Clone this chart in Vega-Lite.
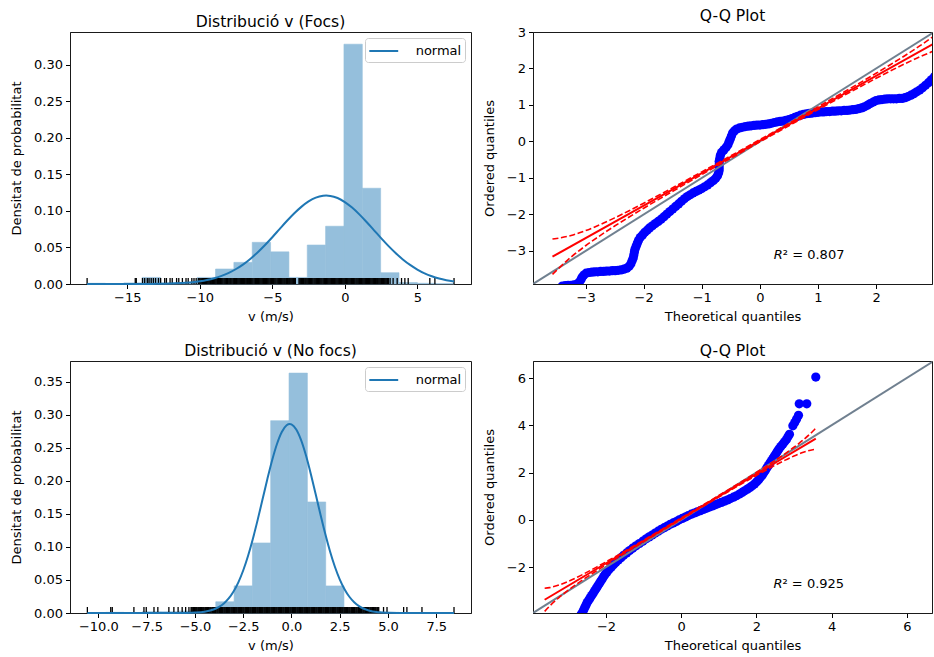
{
  "$schema": "https://vega.github.io/schema/vega-lite/v6.json",
  "padding": {"left": 10, "top": 8, "right": 0, "bottom": 0},
  "background": "white",
  "columns": 2,
  "spacing": {"row": 77, "column": 62},
  "bounds": "flush",
  "resolve": {"scale": {"stroke": "independent"}, "legend": {"stroke": "independent"}},
  "datasets": {
    "h1": [
      {"x": -17.77, "x2": -16.505, "y": 0.001}, {"x": -16.505, "x2": -15.24, "y": 0}, {"x": -15.24, "x2": -13.975, "y": 0.0015},
      {"x": -13.975, "x2": -12.71, "y": 0.009}, {"x": -12.71, "x2": -11.445, "y": 0.0015}, {"x": -11.445, "x2": -10.18, "y": 0.0015},
      {"x": -10.18, "x2": -8.915, "y": 0.009}, {"x": -8.915, "x2": -7.65, "y": 0.0205}, {"x": -7.65, "x2": -6.385, "y": 0.0296},
      {"x": -6.385, "x2": -5.12, "y": 0.057}, {"x": -5.12, "x2": -3.855, "y": 0.044}, {"x": -3.855, "x2": -2.59, "y": 0.009},
      {"x": -2.59, "x2": -1.325, "y": 0.0533}, {"x": -1.325, "x2": -0.06, "y": 0.079}, {"x": -0.06, "x2": 1.205, "y": 0.328},
      {"x": 1.205, "x2": 2.47, "y": 0.131}, {"x": 2.47, "x2": 3.735, "y": 0.0155}, {"x": 3.735, "x2": 5.0, "y": 0.002},
      {"x": 5.0, "x2": 6.265, "y": 0.001}, {"x": 6.265, "x2": 7.53, "y": 0.0005}
    ],
    "r1": [
      {"x": -17.77}, {"x": -14.45}, {"x": -14.38}, {"x": -13.95}, {"x": -13.8}, {"x": -13.62}, {"x": -13.5}, {"x": -13.35}, {"x": -13.2}, {"x": -13.05},
      {"x": -12.85}, {"x": -12.7}, {"x": -12.42}, {"x": -12.3}, {"x": -12.05}, {"x": -11.9}, {"x": -11.6}, {"x": -11.45}, {"x": -11.2}, {"x": -10.95},
      {"x": -10.8}, {"x": -10.55}, {"x": -10.4}, {"x": -10.25}, {"x": -10.1}, {"x": -9.98}, {"x": -9.85}, {"x": -9.74}, {"x": -9.6}, {"x": -9.49},
      {"x": -9.37}, {"x": -9.25}, {"x": -9.12}, {"x": -9.0}, {"x": -8.88}, {"x": -8.77}, {"x": -8.63}, {"x": -8.52}, {"x": -8.4}, {"x": -8.27},
      {"x": -8.15}, {"x": -8.04}, {"x": -7.9}, {"x": -7.79}, {"x": -7.66}, {"x": -7.55}, {"x": -7.42}, {"x": -7.3}, {"x": -7.18}, {"x": -7.06},
      {"x": -6.93}, {"x": -6.81}, {"x": -6.7}, {"x": -6.57}, {"x": -6.45}, {"x": -6.33}, {"x": -6.2}, {"x": -6.09}, {"x": -5.96}, {"x": -5.84},
      {"x": -5.72}, {"x": -5.6}, {"x": -5.48}, {"x": -5.35}, {"x": -5.24}, {"x": -5.11}, {"x": -4.99}, {"x": -4.87}, {"x": -4.75}, {"x": -4.62},
      {"x": -4.5}, {"x": -4.38}, {"x": -4.26}, {"x": -4.14}, {"x": -4.01}, {"x": -3.9}, {"x": -3.77}, {"x": -3.65}, {"x": -3.53}, {"x": -3.41},
      {"x": -3.16}, {"x": -3.04}, {"x": -2.92}, {"x": -2.8}, {"x": -2.67}, {"x": -2.55}, {"x": -2.43}, {"x": -2.31}, {"x": -2.19}, {"x": -2.06},
      {"x": -1.94}, {"x": -1.82}, {"x": -1.7}, {"x": -1.58}, {"x": -1.45}, {"x": -1.33}, {"x": -1.21}, {"x": -1.09}, {"x": -0.97}, {"x": -0.85},
      {"x": -0.72}, {"x": -0.6}, {"x": -0.48}, {"x": -0.36}, {"x": -0.24}, {"x": -0.12}, {"x": 0.0}, {"x": 0.11}, {"x": 0.23}, {"x": 0.35},
      {"x": 0.47}, {"x": 0.59}, {"x": 0.71}, {"x": 0.84}, {"x": 0.96}, {"x": 1.08}, {"x": 1.2}, {"x": 1.32}, {"x": 1.44}, {"x": 1.57},
      {"x": 1.69}, {"x": 1.81}, {"x": 1.93}, {"x": 2.05}, {"x": 2.17}, {"x": 2.3}, {"x": 2.42}, {"x": 2.54}, {"x": 2.66}, {"x": 2.78},
      {"x": 2.9}, {"x": 3.0}, {"x": 3.12}, {"x": 3.33}, {"x": 3.61}, {"x": 3.91}, {"x": 4.14}, {"x": 4.37}, {"x": 5.86}, {"x": 6.21}, {"x": 7.53},
      {"x": -10.04}, {"x": -9.91}, {"x": -9.8}, {"x": -9.67}, {"x": -9.55}, {"x": -9.43}, {"x": -9.31}, {"x": -9.18}, {"x": -9.06}, {"x": -8.94},
      {"x": -8.82}, {"x": -8.7}, {"x": -8.57}, {"x": -8.46}, {"x": -8.33}, {"x": -8.21}, {"x": -8.1}, {"x": -7.97}, {"x": -7.85}, {"x": -7.72},
      {"x": -7.6}, {"x": -7.48}, {"x": -7.36}, {"x": -7.24}, {"x": -7.12}, {"x": -6.99}, {"x": -6.87}, {"x": -6.76}, {"x": -6.63}, {"x": -6.51},
      {"x": -6.39}, {"x": -6.26}, {"x": -6.15}, {"x": -6.02}, {"x": -5.9}, {"x": -5.78}, {"x": -5.66}, {"x": -5.54}, {"x": -5.41}, {"x": -5.3},
      {"x": -5.17}, {"x": -5.05}, {"x": -4.93}, {"x": -4.81}, {"x": -4.68}, {"x": -4.56}, {"x": -4.44}, {"x": -4.32}, {"x": -4.2}, {"x": -4.07},
      {"x": -3.95}, {"x": -3.83}, {"x": -3.71}, {"x": -3.59}, {"x": -3.47}, {"x": -3.1}, {"x": -2.98}, {"x": -2.86}, {"x": -2.73}, {"x": -2.61},
      {"x": -2.49}, {"x": -2.37}, {"x": -2.25}, {"x": -2.12}, {"x": -2.0}, {"x": -1.88}, {"x": -1.76}, {"x": -1.64}, {"x": -1.51}, {"x": -1.39},
      {"x": -1.27}, {"x": -1.15}, {"x": -1.03}, {"x": -0.91}, {"x": -0.78}, {"x": -0.66}, {"x": -0.54}, {"x": -0.42}, {"x": -0.3}, {"x": -0.18},
      {"x": -0.06}, {"x": 0.06}, {"x": 0.17}, {"x": 0.29}, {"x": 0.41}, {"x": 0.53}, {"x": 0.65}, {"x": 0.78}, {"x": 0.9}, {"x": 1.02},
      {"x": 1.14}, {"x": 1.26}, {"x": 1.38}, {"x": 1.5}, {"x": 1.63}, {"x": 1.75}, {"x": 1.87}, {"x": 1.99}, {"x": 2.11}, {"x": 2.24},
      {"x": 2.36}, {"x": 2.48}, {"x": 2.6}, {"x": 2.72}, {"x": 2.84}, {"x": 2.95}
    ],
    "n1": [
      {"x": -17.77, "y": 0}, {"x": -16, "y": 0.00001}, {"x": -15, "y": 0.00002}, {"x": -14, "y": 0.00007}, {"x": -13, "y": 0.00022},
      {"x": -12, "y": 0.00062}, {"x": -11, "y": 0.00158}, {"x": -10.5, "y": 0.00244}, {"x": -10, "y": 0.00369}, {"x": -9.5, "y": 0.00544},
      {"x": -9, "y": 0.00784}, {"x": -8.5, "y": 0.01105}, {"x": -8, "y": 0.0152}, {"x": -7.5, "y": 0.0205}, {"x": -7, "y": 0.0269},
      {"x": -6.5, "y": 0.0346}, {"x": -6, "y": 0.0435}, {"x": -5.5, "y": 0.0534}, {"x": -5, "y": 0.064}, {"x": -4.5, "y": 0.0751},
      {"x": -4, "y": 0.0861}, {"x": -3.5, "y": 0.0964}, {"x": -3, "y": 0.1055}, {"x": -2.5, "y": 0.1129}, {"x": -2, "y": 0.1181},
      {"x": -1.5, "y": 0.1206}, {"x": -1.28, "y": 0.1209}, {"x": -1, "y": 0.1205}, {"x": -0.5, "y": 0.1176}, {"x": 0, "y": 0.1121},
      {"x": 0.5, "y": 0.1045}, {"x": 1, "y": 0.0952}, {"x": 1.5, "y": 0.0848}, {"x": 2, "y": 0.0738}, {"x": 2.5, "y": 0.0627},
      {"x": 3, "y": 0.0521}, {"x": 3.5, "y": 0.0424}, {"x": 4, "y": 0.0336}, {"x": 4.5, "y": 0.0261}, {"x": 5, "y": 0.0198},
      {"x": 5.5, "y": 0.0146}, {"x": 6, "y": 0.0106}, {"x": 6.5, "y": 0.0075}, {"x": 7, "y": 0.0052}, {"x": 7.53, "y": 0.0034}
    ],
    "h2": [
      {"x": -10.57, "x2": -9.62, "y": 0.0005}, {"x": -9.62, "x2": -8.67, "y": 0.001}, {"x": -8.67, "x2": -7.72, "y": 0.0005},
      {"x": -7.72, "x2": -6.77, "y": 0.002}, {"x": -6.77, "x2": -5.82, "y": 0.002}, {"x": -5.82, "x2": -4.87, "y": 0.003},
      {"x": -4.87, "x2": -3.92, "y": 0.007}, {"x": -3.92, "x2": -2.97, "y": 0.017}, {"x": -2.97, "x2": -2.02, "y": 0.041},
      {"x": -2.02, "x2": -1.075, "y": 0.106}, {"x": -1.075, "x2": -0.125, "y": 0.291}, {"x": -0.125, "x2": 0.825, "y": 0.363},
      {"x": 0.825, "x2": 1.775, "y": 0.168}, {"x": 1.775, "x2": 2.72, "y": 0.041}, {"x": 2.72, "x2": 3.67, "y": 0.003},
      {"x": 3.67, "x2": 4.62, "y": 0.002}, {"x": 4.62, "x2": 5.57, "y": 0.001}, {"x": 5.57, "x2": 6.52, "y": 0.0005},
      {"x": 6.52, "x2": 7.47, "y": 0.0005}, {"x": 7.47, "x2": 8.42, "y": 0.0005}
    ],
    "r2": [
      {"x": -10.57}, {"x": -9.36}, {"x": -9.28}, {"x": -8.16}, {"x": -7.64}, {"x": -7.52}, {"x": -7.12}, {"x": -6.92}, {"x": -6.35}, {"x": -6.09},
      {"x": -5.87}, {"x": -5.66}, {"x": -5.48}, {"x": -5.31}, {"x": -5.2}, {"x": -5.11}, {"x": -5.02}, {"x": -4.93}, {"x": -4.84}, {"x": -4.75},
      {"x": -4.66}, {"x": -4.57}, {"x": -4.48}, {"x": -4.39}, {"x": -4.3}, {"x": -4.21}, {"x": -4.12}, {"x": -4.03}, {"x": -3.94}, {"x": -3.85},
      {"x": -3.76}, {"x": -3.67}, {"x": -3.58}, {"x": -3.49}, {"x": -3.4}, {"x": -3.31}, {"x": -3.22}, {"x": -3.13}, {"x": -3.04}, {"x": -2.95},
      {"x": -2.86}, {"x": -2.77}, {"x": -2.68}, {"x": -2.59}, {"x": -2.5}, {"x": -2.41}, {"x": -2.32}, {"x": -2.23}, {"x": -2.14}, {"x": -2.05},
      {"x": -1.96}, {"x": -1.87}, {"x": -1.78}, {"x": -1.69}, {"x": -1.6}, {"x": -1.51}, {"x": -1.42}, {"x": -1.33}, {"x": -1.24}, {"x": -1.15},
      {"x": -1.06}, {"x": -0.97}, {"x": -0.88}, {"x": -0.79}, {"x": -0.7}, {"x": -0.61}, {"x": -0.52}, {"x": -0.43}, {"x": -0.34}, {"x": -0.25},
      {"x": -0.16}, {"x": -0.07}, {"x": 0.02}, {"x": 0.11}, {"x": 0.2}, {"x": 0.29}, {"x": 0.38}, {"x": 0.47}, {"x": 0.56}, {"x": 0.65},
      {"x": 0.74}, {"x": 0.83}, {"x": 0.92}, {"x": 1.01}, {"x": 1.1}, {"x": 1.19}, {"x": 1.28}, {"x": 1.37}, {"x": 1.46}, {"x": 1.55},
      {"x": 1.64}, {"x": 1.73}, {"x": 1.82}, {"x": 1.91}, {"x": 2.0}, {"x": 2.09}, {"x": 2.18}, {"x": 2.27}, {"x": 2.36}, {"x": 2.45},
      {"x": 2.54}, {"x": 2.63}, {"x": 2.72}, {"x": 2.81}, {"x": 2.9}, {"x": 2.99}, {"x": 3.08}, {"x": 3.17}, {"x": 3.26}, {"x": 3.35},
      {"x": 3.44}, {"x": 3.53}, {"x": 3.62}, {"x": 3.71}, {"x": 3.8}, {"x": 3.89}, {"x": 3.98}, {"x": 4.07}, {"x": 4.16}, {"x": 4.25},
      {"x": 4.34}, {"x": 4.43}, {"x": 4.52}, {"x": 4.77}, {"x": 4.95}, {"x": 5.81}, {"x": 5.98}, {"x": 6.76}, {"x": 8.42},
      {"x": -5.16}, {"x": -5.07}, {"x": -4.98}, {"x": -4.89}, {"x": -4.8}, {"x": -4.71}, {"x": -4.62}, {"x": -4.53}, {"x": -4.44}, {"x": -4.35},
      {"x": -4.26}, {"x": -4.17}, {"x": -4.08}, {"x": -3.99}, {"x": -3.9}, {"x": -3.81}, {"x": -3.72}, {"x": -3.63}, {"x": -3.54}, {"x": -3.45},
      {"x": -3.36}, {"x": -3.27}, {"x": -3.18}, {"x": -3.09}, {"x": -3.0}, {"x": -2.91}, {"x": -2.82}, {"x": -2.73}, {"x": -2.64}, {"x": -2.55},
      {"x": -2.46}, {"x": -2.37}, {"x": -2.28}, {"x": -2.19}, {"x": -2.1}, {"x": -2.01}, {"x": -1.92}, {"x": -1.83}, {"x": -1.74}, {"x": -1.65},
      {"x": -1.56}, {"x": -1.47}, {"x": -1.38}, {"x": -1.29}, {"x": -1.2}, {"x": -1.11}, {"x": -1.02}, {"x": -0.93}, {"x": -0.84}, {"x": -0.75},
      {"x": -0.66}, {"x": -0.57}, {"x": -0.48}, {"x": -0.39}, {"x": -0.3}, {"x": -0.21}, {"x": -0.12}, {"x": -0.03}, {"x": 0.06}, {"x": 0.15},
      {"x": 0.24}, {"x": 0.33}, {"x": 0.42}, {"x": 0.51}, {"x": 0.6}, {"x": 0.69}, {"x": 0.78}, {"x": 0.87}, {"x": 0.96}, {"x": 1.05},
      {"x": 1.14}, {"x": 1.23}, {"x": 1.32}, {"x": 1.41}, {"x": 1.5}, {"x": 1.59}, {"x": 1.68}, {"x": 1.77}, {"x": 1.86}, {"x": 1.95},
      {"x": 2.04}, {"x": 2.13}, {"x": 2.22}, {"x": 2.31}, {"x": 2.4}, {"x": 2.49}, {"x": 2.58}, {"x": 2.67}, {"x": 2.76}, {"x": 2.85},
      {"x": 2.94}, {"x": 3.03}, {"x": 3.12}, {"x": 3.21}, {"x": 3.3}, {"x": 3.39}, {"x": 3.48}, {"x": 3.57}, {"x": 3.66}, {"x": 3.75},
      {"x": 3.84}, {"x": 3.93}, {"x": 4.02}, {"x": 4.11}, {"x": 4.2}, {"x": 4.29}, {"x": 4.38}, {"x": 4.47}
    ],
    "n2": [
      {"x": -10.57, "y": 0}, {"x": -8, "y": 0}, {"x": -7, "y": 0}, {"x": -6, "y": 0.00004}, {"x": -5.5, "y": 0.000155},
      {"x": -5, "y": 0.00058}, {"x": -4.5, "y": 0.00193}, {"x": -4, "y": 0.00563}, {"x": -3.75, "y": 0.00916}, {"x": -3.5, "y": 0.01441},
      {"x": -3.25, "y": 0.022}, {"x": -3, "y": 0.0325}, {"x": -2.75, "y": 0.0464}, {"x": -2.5, "y": 0.0643}, {"x": -2.25, "y": 0.0862},
      {"x": -2, "y": 0.112}, {"x": -1.75, "y": 0.1409}, {"x": -1.5, "y": 0.1716}, {"x": -1.25, "y": 0.2024}, {"x": -1, "y": 0.2312},
      {"x": -0.75, "y": 0.2557}, {"x": -0.5, "y": 0.2739}, {"x": -0.25, "y": 0.2841}, {"x": -0.09, "y": 0.286}, {"x": 0, "y": 0.2854},
      {"x": 0.25, "y": 0.2776}, {"x": 0.5, "y": 0.2615}, {"x": 0.75, "y": 0.2386}, {"x": 1, "y": 0.2108}, {"x": 1.25, "y": 0.1803},
      {"x": 1.5, "y": 0.1494}, {"x": 1.75, "y": 0.1198}, {"x": 2, "y": 0.0931}, {"x": 2.25, "y": 0.07}, {"x": 2.5, "y": 0.051},
      {"x": 2.75, "y": 0.036}, {"x": 3, "y": 0.0246}, {"x": 3.25, "y": 0.0163}, {"x": 3.5, "y": 0.01043}, {"x": 3.75, "y": 0.00647},
      {"x": 4, "y": 0.00389}, {"x": 4.5, "y": 0.00128}, {"x": 5, "y": 0.00037}, {"x": 5.5, "y": 0.000093}, {"x": 6, "y": 0.00002},
      {"x": 7, "y": 0}, {"x": 8.42, "y": 0}
    ],
    "q1": [
      {"x": -3.4, "y": -3.96}, {"x": -3.35, "y": -3.95}, {"x": -3.3, "y": -3.94}, {"x": -3.25, "y": -3.94}, {"x": -3.2, "y": -3.93},
      {"x": -3.15, "y": -3.91}, {"x": -3.11, "y": -3.86}, {"x": -3.08, "y": -3.79}, {"x": -3.06, "y": -3.72}, {"x": -3.03, "y": -3.66},
      {"x": -2.99, "y": -3.61}, {"x": -2.94, "y": -3.59}, {"x": -2.89, "y": -3.58}, {"x": -2.84, "y": -3.57}, {"x": -2.79, "y": -3.57},
      {"x": -2.74, "y": -3.56}, {"x": -2.69, "y": -3.56}, {"x": -2.64, "y": -3.55}, {"x": -2.59, "y": -3.55}, {"x": -2.54, "y": -3.54},
      {"x": -2.49, "y": -3.54}, {"x": -2.44, "y": -3.53}, {"x": -2.39, "y": -3.52}, {"x": -2.34, "y": -3.5}, {"x": -2.29, "y": -3.47},
      {"x": -2.25, "y": -3.42}, {"x": -2.22, "y": -3.35}, {"x": -2.2, "y": -3.27}, {"x": -2.18, "y": -3.19}, {"x": -2.17, "y": -3.11},
      {"x": -2.16, "y": -3.03}, {"x": -2.15, "y": -2.95}, {"x": -2.13, "y": -2.87}, {"x": -2.11, "y": -2.79}, {"x": -2.09, "y": -2.71},
      {"x": -2.06, "y": -2.63}, {"x": -2.02, "y": -2.56}, {"x": -1.98, "y": -2.49}, {"x": -1.94, "y": -2.43}, {"x": -1.9, "y": -2.37},
      {"x": -1.85, "y": -2.31}, {"x": -1.8, "y": -2.25}, {"x": -1.75, "y": -2.19}, {"x": -1.7, "y": -2.13}, {"x": -1.65, "y": -2.06},
      {"x": -1.6, "y": -1.99}, {"x": -1.55, "y": -1.92}, {"x": -1.5, "y": -1.85}, {"x": -1.45, "y": -1.78}, {"x": -1.4, "y": -1.71},
      {"x": -1.35, "y": -1.64}, {"x": -1.3, "y": -1.57}, {"x": -1.25, "y": -1.51}, {"x": -1.2, "y": -1.46}, {"x": -1.15, "y": -1.41},
      {"x": -1.1, "y": -1.37}, {"x": -1.05, "y": -1.33}, {"x": -1.0, "y": -1.29}, {"x": -0.95, "y": -1.24}, {"x": -0.9, "y": -1.19},
      {"x": -0.85, "y": -1.13}, {"x": -0.8, "y": -1.07}, {"x": -0.76, "y": -1.01}, {"x": -0.73, "y": -0.94}, {"x": -0.71, "y": -0.86},
      {"x": -0.7, "y": -0.78}, {"x": -0.7, "y": -0.7}, {"x": -0.7, "y": -0.62}, {"x": -0.7, "y": -0.54}, {"x": -0.69, "y": -0.46},
      {"x": -0.68, "y": -0.38}, {"x": -0.66, "y": -0.3}, {"x": -0.62, "y": -0.23}, {"x": -0.58, "y": -0.16}, {"x": -0.55, "y": -0.09},
      {"x": -0.53, "y": -0.01}, {"x": -0.51, "y": 0.07}, {"x": -0.49, "y": 0.15}, {"x": -0.47, "y": 0.23}, {"x": -0.44, "y": 0.29},
      {"x": -0.4, "y": 0.34}, {"x": -0.35, "y": 0.37}, {"x": -0.3, "y": 0.39}, {"x": -0.25, "y": 0.41}, {"x": -0.2, "y": 0.42},
      {"x": -0.15, "y": 0.43}, {"x": -0.1, "y": 0.44}, {"x": -0.05, "y": 0.45}, {"x": 0.0, "y": 0.45}, {"x": 0.05, "y": 0.46},
      {"x": 0.1, "y": 0.47}, {"x": 0.15, "y": 0.48}, {"x": 0.2, "y": 0.5}, {"x": 0.25, "y": 0.52}, {"x": 0.3, "y": 0.54},
      {"x": 0.35, "y": 0.55}, {"x": 0.4, "y": 0.56}, {"x": 0.45, "y": 0.58}, {"x": 0.5, "y": 0.6}, {"x": 0.55, "y": 0.63},
      {"x": 0.6, "y": 0.66}, {"x": 0.65, "y": 0.69}, {"x": 0.7, "y": 0.72}, {"x": 0.75, "y": 0.74}, {"x": 0.8, "y": 0.76},
      {"x": 0.85, "y": 0.77}, {"x": 0.9, "y": 0.78}, {"x": 0.95, "y": 0.79}, {"x": 1.0, "y": 0.8}, {"x": 1.05, "y": 0.81},
      {"x": 1.1, "y": 0.81}, {"x": 1.15, "y": 0.82}, {"x": 1.2, "y": 0.82}, {"x": 1.25, "y": 0.83}, {"x": 1.3, "y": 0.83},
      {"x": 1.35, "y": 0.84}, {"x": 1.4, "y": 0.84}, {"x": 1.45, "y": 0.85}, {"x": 1.5, "y": 0.85}, {"x": 1.55, "y": 0.86},
      {"x": 1.6, "y": 0.87}, {"x": 1.65, "y": 0.88}, {"x": 1.7, "y": 0.9}, {"x": 1.75, "y": 0.92}, {"x": 1.8, "y": 0.95},
      {"x": 1.85, "y": 0.99}, {"x": 1.9, "y": 1.04}, {"x": 1.95, "y": 1.08}, {"x": 2.0, "y": 1.12}, {"x": 2.05, "y": 1.14},
      {"x": 2.1, "y": 1.15}, {"x": 2.15, "y": 1.16}, {"x": 2.2, "y": 1.17}, {"x": 2.25, "y": 1.17}, {"x": 2.3, "y": 1.17},
      {"x": 2.35, "y": 1.17}, {"x": 2.4, "y": 1.18}, {"x": 2.45, "y": 1.18}, {"x": 2.5, "y": 1.2}, {"x": 2.55, "y": 1.23},
      {"x": 2.6, "y": 1.27}, {"x": 2.65, "y": 1.31}, {"x": 2.7, "y": 1.36}, {"x": 2.75, "y": 1.41}, {"x": 2.8, "y": 1.47},
      {"x": 2.85, "y": 1.54}, {"x": 2.9, "y": 1.61}, {"x": 2.95, "y": 1.69}, {"x": 3.0, "y": 1.77}
    ],
    "f1": [{"x": -3.57, "y": -3.157}, {"x": 3.57, "y": 3.197}],
    "u1": [
      {"x": -3.57, "y": -2.674}, {"x": -3.5, "y": -2.658}, {"x": -3.25, "y": -2.577}, {"x": -3.0, "y": -2.443}, {"x": -2.75, "y": -2.278},
      {"x": -2.5, "y": -2.093}, {"x": -2.25, "y": -1.896}, {"x": -2.0, "y": -1.691}, {"x": -1.5, "y": -1.267}, {"x": -1.0, "y": -0.832},
      {"x": -0.5, "y": -0.392}, {"x": 0, "y": 0.051}, {"x": 0.5, "y": 0.498}, {"x": 1.0, "y": 0.948}, {"x": 1.5, "y": 1.403},
      {"x": 2.0, "y": 1.869}, {"x": 2.25, "y": 2.109}, {"x": 2.5, "y": 2.357}, {"x": 2.75, "y": 2.618}, {"x": 3.0, "y": 2.897},
      {"x": 3.25, "y": 3.209}, {"x": 3.5, "y": 3.573}, {"x": 3.57, "y": 3.68}
    ],
    "l1": [
      {"x": -3.57, "y": -3.64}, {"x": -3.5, "y": -3.533}, {"x": -3.25, "y": -3.168}, {"x": -3.0, "y": -2.857}, {"x": -2.75, "y": -2.578},
      {"x": -2.5, "y": -2.317}, {"x": -2.25, "y": -2.069}, {"x": -2.0, "y": -1.829}, {"x": -1.5, "y": -1.363}, {"x": -1.0, "y": -0.908},
      {"x": -0.5, "y": -0.458}, {"x": 0, "y": -0.011}, {"x": 0.5, "y": 0.432}, {"x": 1.0, "y": 0.872}, {"x": 1.5, "y": 1.307},
      {"x": 2.0, "y": 1.731}, {"x": 2.25, "y": 1.936}, {"x": 2.5, "y": 2.133}, {"x": 2.75, "y": 2.318}, {"x": 3.0, "y": 2.483},
      {"x": 3.25, "y": 2.617}, {"x": 3.5, "y": 2.698}, {"x": 3.57, "y": 2.714}
    ],
    "d1": [{"x": -3.905, "y": -3.905}, {"x": 3.0, "y": 3.0}],
    "q2": [
      {"x": -2.66, "y": -4.0}, {"x": -2.62, "y": -3.9}, {"x": -2.59, "y": -3.8}, {"x": -2.56, "y": -3.7}, {"x": -2.53, "y": -3.6},
      {"x": -2.5, "y": -3.5}, {"x": -2.46, "y": -3.4}, {"x": -2.42, "y": -3.3}, {"x": -2.38, "y": -3.2}, {"x": -2.34, "y": -3.1},
      {"x": -2.3, "y": -3.0}, {"x": -2.26, "y": -2.9}, {"x": -2.22, "y": -2.8}, {"x": -2.18, "y": -2.7}, {"x": -2.14, "y": -2.6},
      {"x": -2.1, "y": -2.5}, {"x": -2.06, "y": -2.4}, {"x": -2.02, "y": -2.3}, {"x": -1.97, "y": -2.2}, {"x": -1.92, "y": -2.1},
      {"x": -1.86, "y": -2.0}, {"x": -1.8, "y": -1.9}, {"x": -1.74, "y": -1.8}, {"x": -1.67, "y": -1.7}, {"x": -1.6, "y": -1.6},
      {"x": -1.53, "y": -1.5}, {"x": -1.45, "y": -1.4}, {"x": -1.37, "y": -1.3}, {"x": -1.29, "y": -1.2}, {"x": -1.2, "y": -1.1},
      {"x": -1.11, "y": -1.0}, {"x": -1.02, "y": -0.9}, {"x": -0.93, "y": -0.8}, {"x": -0.85, "y": -0.72}, {"x": -0.77, "y": -0.64},
      {"x": -0.69, "y": -0.56}, {"x": -0.61, "y": -0.48}, {"x": -0.53, "y": -0.4}, {"x": -0.45, "y": -0.33}, {"x": -0.37, "y": -0.26},
      {"x": -0.29, "y": -0.19}, {"x": -0.21, "y": -0.13}, {"x": -0.13, "y": -0.07}, {"x": -0.05, "y": 0.0}, {"x": 0.03, "y": 0.06},
      {"x": 0.11, "y": 0.12}, {"x": 0.19, "y": 0.18}, {"x": 0.27, "y": 0.24}, {"x": 0.35, "y": 0.29}, {"x": 0.43, "y": 0.34},
      {"x": 0.51, "y": 0.39}, {"x": 0.59, "y": 0.44}, {"x": 0.67, "y": 0.49}, {"x": 0.75, "y": 0.54}, {"x": 0.83, "y": 0.59},
      {"x": 0.91, "y": 0.64}, {"x": 0.99, "y": 0.69}, {"x": 1.07, "y": 0.74}, {"x": 1.15, "y": 0.79}, {"x": 1.23, "y": 0.84},
      {"x": 1.31, "y": 0.9}, {"x": 1.39, "y": 0.96}, {"x": 1.47, "y": 1.02}, {"x": 1.55, "y": 1.09}, {"x": 1.62, "y": 1.16},
      {"x": 1.69, "y": 1.23}, {"x": 1.76, "y": 1.3}, {"x": 1.83, "y": 1.37}, {"x": 1.89, "y": 1.44}, {"x": 1.95, "y": 1.52},
      {"x": 2.01, "y": 1.61}, {"x": 2.06, "y": 1.7}, {"x": 2.11, "y": 1.8}, {"x": 2.16, "y": 1.9}, {"x": 2.2, "y": 2.0},
      {"x": 2.24, "y": 2.1}, {"x": 2.28, "y": 2.2}, {"x": 2.32, "y": 2.3}, {"x": 2.36, "y": 2.4}, {"x": 2.4, "y": 2.5},
      {"x": 2.44, "y": 2.6}, {"x": 2.48, "y": 2.7}, {"x": 2.52, "y": 2.8}, {"x": 2.56, "y": 2.9}, {"x": 2.6, "y": 3.0},
      {"x": 2.65, "y": 3.1}, {"x": 2.7, "y": 3.2}, {"x": 2.75, "y": 3.3}, {"x": 2.8, "y": 3.4}, {"x": 2.84, "y": 3.52},
      {"x": 2.88, "y": 3.62}, {"x": 2.97, "y": 3.98}, {"x": 3.02, "y": 4.12}, {"x": 3.07, "y": 4.27}, {"x": 3.12, "y": 4.42},
      {"x": 3.14, "y": 4.91}, {"x": 3.34, "y": 4.91}, {"x": 3.58, "y": 6.04}
    ],
    "f2": [{"x": -3.63, "y": -3.38}, {"x": 3.58, "y": 3.433}],
    "u2": [
      {"x": -3.63, "y": -2.89}, {"x": -3.5, "y": -2.866}, {"x": -3.25, "y": -2.756}, {"x": -3.0, "y": -2.599}, {"x": -2.75, "y": -2.415},
      {"x": -2.5, "y": -2.212}, {"x": -2.25, "y": -1.999}, {"x": -2.0, "y": -1.778}, {"x": -1.5, "y": -1.324}, {"x": -1.0, "y": -0.861},
      {"x": -0.5, "y": -0.393}, {"x": 0, "y": 0.078}, {"x": 0.5, "y": 0.552}, {"x": 1.0, "y": 1.029}, {"x": 1.5, "y": 1.511},
      {"x": 2.0, "y": 2.002}, {"x": 2.25, "y": 2.254}, {"x": 2.5, "y": 2.513}, {"x": 2.75, "y": 2.783}, {"x": 3.0, "y": 3.071},
      {"x": 3.25, "y": 3.386}, {"x": 3.5, "y": 3.75}, {"x": 3.58, "y": 3.883}
    ],
    "l2": [
      {"x": -3.63, "y": -3.87}, {"x": -3.5, "y": -3.65}, {"x": -3.25, "y": -3.286}, {"x": -3.0, "y": -2.971}, {"x": -2.75, "y": -2.683},
      {"x": -2.5, "y": -2.413}, {"x": -2.25, "y": -2.154}, {"x": -2.0, "y": -1.902}, {"x": -1.5, "y": -1.411}, {"x": -1.0, "y": -0.929},
      {"x": -0.5, "y": -0.452}, {"x": 0, "y": 0.022}, {"x": 0.5, "y": 0.493}, {"x": 1.0, "y": 0.961}, {"x": 1.5, "y": 1.424},
      {"x": 2.0, "y": 1.878}, {"x": 2.25, "y": 2.099}, {"x": 2.5, "y": 2.312}, {"x": 2.75, "y": 2.515}, {"x": 3.0, "y": 2.699},
      {"x": 3.25, "y": 2.856}, {"x": 3.5, "y": 2.966}, {"x": 3.58, "y": 2.983}
    ],
    "d2": [{"x": -3.94, "y": -3.94}, {"x": 6.72, "y": 6.72}]
  },
  "concat": [
    {
      "width": 401, "height": 252,
      "title": "Distribució v (Focs)",
      "layer": [
        {"data": {"name": "h1"}, "mark": {"type": "rect", "color": "#95bfdc", "stroke": "#95bfdc", "strokeWidth": 0.6},
         "encoding": {
           "x": {"field": "x", "type": "quantitative", "title": "v (m/s)", "scale": {"domain": [-18.95, 8.7], "nice": false, "zero": false}, "axis": {"values": [-15, -10, -5, 0, 5], "format": "d", "labelOverlap": false}},
           "x2": {"field": "x2"},
           "y": {"field": "y", "type": "quantitative", "title": "Densitat de probabilitat", "scale": {"domain": [0, 0.3447], "nice": false, "zero": false}, "axis": {"values": [0, 0.05, 0.1, 0.15, 0.2, 0.25, 0.3], "format": ".2f", "labelOverlap": false}},
           "y2": {"datum": 0}}},
        {"data": {"name": "r1"}, "mark": {"type": "rule", "color": "black", "strokeWidth": 1.3},
         "encoding": {
           "x": {"field": "x", "type": "quantitative", "title": "v (m/s)", "scale": {"domain": [-18.95, 8.7], "nice": false, "zero": false}, "axis": {"values": [-15, -10, -5, 0, 5], "format": "d", "labelOverlap": false}},
           "y": {"datum": 0, "scale": {"domain": [0, 0.3447], "nice": false, "zero": false}, "axis": {"values": [0, 0.05, 0.1, 0.15, 0.2, 0.25, 0.3], "format": ".2f", "labelOverlap": false}},
           "y2": {"datum": 0.0082}}},
        {"data": {"name": "n1"}, "mark": {"type": "line", "strokeWidth": 2, "interpolate": "monotone"},
         "encoding": {
           "x": {"field": "x", "type": "quantitative", "title": "v (m/s)", "scale": {"domain": [-18.95, 8.7], "nice": false, "zero": false}, "axis": {"values": [-15, -10, -5, 0, 5], "format": "d", "labelOverlap": false}},
           "y": {"field": "y", "type": "quantitative", "title": "Densitat de probabilitat", "scale": {"domain": [0, 0.3447], "nice": false, "zero": false}, "axis": {"values": [0, 0.05, 0.1, 0.15, 0.2, 0.25, 0.3], "format": ".2f", "labelOverlap": false}},
           "stroke": {"datum": "normal", "type": "nominal", "scale": {"domain": ["normal"], "range": ["#1f77b4"]}, "legend": {"title": null}}}}
      ]
    },
    {
      "width": 399, "height": 252,
      "title": "Q-Q Plot",
      "layer": [
        {"data": {"name": "q1"}, "mark": {"type": "circle", "color": "#0000ff", "opacity": 1, "size": 85, "clip": true},
         "encoding": {
           "x": {"field": "x", "type": "quantitative", "title": "Theoretical quantiles", "scale": {"domain": [-3.905, 2.962], "nice": false, "zero": false}, "axis": {"values": [-3, -2, -1, 0, 1, 2], "format": "d", "labelOverlap": false}},
           "y": {"field": "y", "type": "quantitative", "title": "Ordered quantiles", "scale": {"domain": [-3.905, 3.0], "nice": false, "zero": false}, "axis": {"values": [-3, -2, -1, 0, 1, 2, 3], "format": "d", "labelOverlap": false}}}},
        {"data": {"name": "d1"}, "mark": {"type": "line", "color": "#708090", "strokeWidth": 2, "clip": true},
         "encoding": {
           "x": {"field": "x", "type": "quantitative", "title": "Theoretical quantiles", "scale": {"domain": [-3.905, 2.962], "nice": false, "zero": false}, "axis": {"values": [-3, -2, -1, 0, 1, 2], "format": "d", "labelOverlap": false}},
           "y": {"field": "y", "type": "quantitative", "title": "Ordered quantiles", "scale": {"domain": [-3.905, 3.0], "nice": false, "zero": false}, "axis": {"values": [-3, -2, -1, 0, 1, 2, 3], "format": "d", "labelOverlap": false}}}},
        {"data": {"name": "f1"}, "mark": {"type": "line", "color": "#ff0000", "strokeWidth": 2, "clip": true},
         "encoding": {
           "x": {"field": "x", "type": "quantitative", "title": "Theoretical quantiles", "scale": {"domain": [-3.905, 2.962], "nice": false, "zero": false}, "axis": {"values": [-3, -2, -1, 0, 1, 2], "format": "d", "labelOverlap": false}},
           "y": {"field": "y", "type": "quantitative", "title": "Ordered quantiles", "scale": {"domain": [-3.905, 3.0], "nice": false, "zero": false}, "axis": {"values": [-3, -2, -1, 0, 1, 2, 3], "format": "d", "labelOverlap": false}}}},
        {"data": {"name": "u1"}, "mark": {"type": "line", "color": "#ff0000", "strokeWidth": 1.6, "strokeDash": [6, 2.6], "interpolate": "monotone", "clip": true},
         "encoding": {
           "x": {"field": "x", "type": "quantitative", "title": "Theoretical quantiles", "scale": {"domain": [-3.905, 2.962], "nice": false, "zero": false}, "axis": {"values": [-3, -2, -1, 0, 1, 2], "format": "d", "labelOverlap": false}},
           "y": {"field": "y", "type": "quantitative", "title": "Ordered quantiles", "scale": {"domain": [-3.905, 3.0], "nice": false, "zero": false}, "axis": {"values": [-3, -2, -1, 0, 1, 2, 3], "format": "d", "labelOverlap": false}}}},
        {"data": {"name": "l1"}, "mark": {"type": "line", "color": "#ff0000", "strokeWidth": 1.6, "strokeDash": [6, 2.6], "interpolate": "monotone", "clip": true},
         "encoding": {
           "x": {"field": "x", "type": "quantitative", "title": "Theoretical quantiles", "scale": {"domain": [-3.905, 2.962], "nice": false, "zero": false}, "axis": {"values": [-3, -2, -1, 0, 1, 2], "format": "d", "labelOverlap": false}},
           "y": {"field": "y", "type": "quantitative", "title": "Ordered quantiles", "scale": {"domain": [-3.905, 3.0], "nice": false, "zero": false}, "axis": {"values": [-3, -2, -1, 0, 1, 2, 3], "format": "d", "labelOverlap": false}}}},
        {"data": {"values": [{"lab": "R"}]}, "mark": {"type": "text", "fontStyle": "italic", "fontSize": 13, "align": "left", "baseline": "alphabetic", "color": "black"},
         "encoding": {
           "x": {"datum": 0.24, "scale": {"domain": [-3.905, 2.962], "nice": false, "zero": false}, "axis": {"values": [-3, -2, -1, 0, 1, 2], "format": "d", "labelOverlap": false}},
           "y": {"datum": -3.21, "scale": {"domain": [-3.905, 3.0], "nice": false, "zero": false}, "axis": {"values": [-3, -2, -1, 0, 1, 2, 3], "format": "d", "labelOverlap": false}},
           "text": {"field": "lab"}}},
        {"data": {"values": [{"lab": "² = 0.807"}]}, "mark": {"type": "text", "fontSize": 13, "align": "left", "baseline": "alphabetic", "dx": 9, "color": "black"},
         "encoding": {
           "x": {"datum": 0.24, "scale": {"domain": [-3.905, 2.962], "nice": false, "zero": false}, "axis": {"values": [-3, -2, -1, 0, 1, 2], "format": "d", "labelOverlap": false}},
           "y": {"datum": -3.21, "scale": {"domain": [-3.905, 3.0], "nice": false, "zero": false}, "axis": {"values": [-3, -2, -1, 0, 1, 2, 3], "format": "d", "labelOverlap": false}},
           "text": {"field": "lab"}}}
      ]
    },
    {
      "width": 401, "height": 252,
      "title": "Distribució v (No focs)",
      "layer": [
        {"data": {"name": "h2"}, "mark": {"type": "rect", "color": "#95bfdc", "stroke": "#95bfdc", "strokeWidth": 0.6},
         "encoding": {
           "x": {"field": "x", "type": "quantitative", "title": "v (m/s)", "scale": {"domain": [-11.47, 9.3], "nice": false, "zero": false}, "axis": {"values": [-10, -7.5, -5, -2.5, 0, 2.5, 5, 7.5], "format": ".1f", "labelOverlap": false}},
           "x2": {"field": "x2"},
           "y": {"field": "y", "type": "quantitative", "title": "Densitat de probabilitat", "scale": {"domain": [0, 0.3813], "nice": false, "zero": false}, "axis": {"values": [0, 0.05, 0.1, 0.15, 0.2, 0.25, 0.3, 0.35], "format": ".2f", "labelOverlap": false}},
           "y2": {"datum": 0}}},
        {"data": {"name": "r2"}, "mark": {"type": "rule", "color": "black", "strokeWidth": 1.3},
         "encoding": {
           "x": {"field": "x", "type": "quantitative", "title": "v (m/s)", "scale": {"domain": [-11.47, 9.3], "nice": false, "zero": false}, "axis": {"values": [-10, -7.5, -5, -2.5, 0, 2.5, 5, 7.5], "format": ".1f", "labelOverlap": false}},
           "y": {"datum": 0, "scale": {"domain": [0, 0.3813], "nice": false, "zero": false}, "axis": {"values": [0, 0.05, 0.1, 0.15, 0.2, 0.25, 0.3, 0.35], "format": ".2f", "labelOverlap": false}},
           "y2": {"datum": 0.0091}}},
        {"data": {"name": "n2"}, "mark": {"type": "line", "strokeWidth": 2, "interpolate": "monotone"},
         "encoding": {
           "x": {"field": "x", "type": "quantitative", "title": "v (m/s)", "scale": {"domain": [-11.47, 9.3], "nice": false, "zero": false}, "axis": {"values": [-10, -7.5, -5, -2.5, 0, 2.5, 5, 7.5], "format": ".1f", "labelOverlap": false}},
           "y": {"field": "y", "type": "quantitative", "title": "Densitat de probabilitat", "scale": {"domain": [0, 0.3813], "nice": false, "zero": false}, "axis": {"values": [0, 0.05, 0.1, 0.15, 0.2, 0.25, 0.3, 0.35], "format": ".2f", "labelOverlap": false}},
           "stroke": {"datum": "normal", "type": "nominal", "scale": {"domain": ["normal"], "range": ["#1f77b4"]}, "legend": {"title": null}}}}
      ]
    },
    {
      "width": 399, "height": 252,
      "title": "Q-Q Plot",
      "layer": [
        {"data": {"name": "q2"}, "mark": {"type": "circle", "color": "#0000ff", "opacity": 1, "size": 85, "clip": true},
         "encoding": {
           "x": {"field": "x", "type": "quantitative", "title": "Theoretical quantiles", "scale": {"domain": [-3.94, 6.67], "nice": false, "zero": false}, "axis": {"values": [-2, 0, 2, 4, 6], "format": "d", "labelOverlap": false}},
           "y": {"field": "y", "type": "quantitative", "title": "Ordered quantiles", "scale": {"domain": [-3.94, 6.72], "nice": false, "zero": false}, "axis": {"values": [-2, 0, 2, 4, 6], "format": "d", "labelOverlap": false}}}},
        {"data": {"name": "d2"}, "mark": {"type": "line", "color": "#708090", "strokeWidth": 2, "clip": true},
         "encoding": {
           "x": {"field": "x", "type": "quantitative", "title": "Theoretical quantiles", "scale": {"domain": [-3.94, 6.67], "nice": false, "zero": false}, "axis": {"values": [-2, 0, 2, 4, 6], "format": "d", "labelOverlap": false}},
           "y": {"field": "y", "type": "quantitative", "title": "Ordered quantiles", "scale": {"domain": [-3.94, 6.72], "nice": false, "zero": false}, "axis": {"values": [-2, 0, 2, 4, 6], "format": "d", "labelOverlap": false}}}},
        {"data": {"name": "f2"}, "mark": {"type": "line", "color": "#ff0000", "strokeWidth": 2, "clip": true},
         "encoding": {
           "x": {"field": "x", "type": "quantitative", "title": "Theoretical quantiles", "scale": {"domain": [-3.94, 6.67], "nice": false, "zero": false}, "axis": {"values": [-2, 0, 2, 4, 6], "format": "d", "labelOverlap": false}},
           "y": {"field": "y", "type": "quantitative", "title": "Ordered quantiles", "scale": {"domain": [-3.94, 6.72], "nice": false, "zero": false}, "axis": {"values": [-2, 0, 2, 4, 6], "format": "d", "labelOverlap": false}}}},
        {"data": {"name": "u2"}, "mark": {"type": "line", "color": "#ff0000", "strokeWidth": 1.6, "strokeDash": [6, 2.6], "interpolate": "monotone", "clip": true},
         "encoding": {
           "x": {"field": "x", "type": "quantitative", "title": "Theoretical quantiles", "scale": {"domain": [-3.94, 6.67], "nice": false, "zero": false}, "axis": {"values": [-2, 0, 2, 4, 6], "format": "d", "labelOverlap": false}},
           "y": {"field": "y", "type": "quantitative", "title": "Ordered quantiles", "scale": {"domain": [-3.94, 6.72], "nice": false, "zero": false}, "axis": {"values": [-2, 0, 2, 4, 6], "format": "d", "labelOverlap": false}}}},
        {"data": {"name": "l2"}, "mark": {"type": "line", "color": "#ff0000", "strokeWidth": 1.6, "strokeDash": [6, 2.6], "interpolate": "monotone", "clip": true},
         "encoding": {
           "x": {"field": "x", "type": "quantitative", "title": "Theoretical quantiles", "scale": {"domain": [-3.94, 6.67], "nice": false, "zero": false}, "axis": {"values": [-2, 0, 2, 4, 6], "format": "d", "labelOverlap": false}},
           "y": {"field": "y", "type": "quantitative", "title": "Ordered quantiles", "scale": {"domain": [-3.94, 6.72], "nice": false, "zero": false}, "axis": {"values": [-2, 0, 2, 4, 6], "format": "d", "labelOverlap": false}}}},
        {"data": {"values": [{"lab": "R"}]}, "mark": {"type": "text", "fontStyle": "italic", "fontSize": 13, "align": "left", "baseline": "alphabetic", "color": "black"},
         "encoding": {
           "x": {"datum": 2.456, "scale": {"domain": [-3.94, 6.67], "nice": false, "zero": false}, "axis": {"values": [-2, 0, 2, 4, 6], "format": "d", "labelOverlap": false}},
           "y": {"datum": -2.874, "scale": {"domain": [-3.94, 6.72], "nice": false, "zero": false}, "axis": {"values": [-2, 0, 2, 4, 6], "format": "d", "labelOverlap": false}},
           "text": {"field": "lab"}}},
        {"data": {"values": [{"lab": "² = 0.925"}]}, "mark": {"type": "text", "fontSize": 13, "align": "left", "baseline": "alphabetic", "dx": 9, "color": "black"},
         "encoding": {
           "x": {"datum": 2.456, "scale": {"domain": [-3.94, 6.67], "nice": false, "zero": false}, "axis": {"values": [-2, 0, 2, 4, 6], "format": "d", "labelOverlap": false}},
           "y": {"datum": -2.874, "scale": {"domain": [-3.94, 6.72], "nice": false, "zero": false}, "axis": {"values": [-2, 0, 2, 4, 6], "format": "d", "labelOverlap": false}},
           "text": {"field": "lab"}}}
      ]
    }
  ],
  "config": {
    "font": "DejaVu Sans",
    "view": {"stroke": "#1a1a1a", "strokeWidth": 1},
    "axis": {
      "domain": true, "domainColor": "#1a1a1a", "domainWidth": 1,
      "ticks": true, "tickColor": "black", "tickSize": 4.5, "tickWidth": 1,
      "labelFont": "DejaVu Sans", "labelFontSize": 13, "labelColor": "black", "labelPadding": 3,
      "titleFont": "DejaVu Sans", "titleFontSize": 13, "titleFontWeight": "normal", "titleColor": "black",
      "grid": false, "labelOverlap": false, "labelFlush": false, "labelBound": false
    },
    "axisX": {"titlePadding": 6},
    "axisY": {"titlePadding": 10},
    "title": {"font": "DejaVu Sans", "fontSize": 15.6, "fontWeight": "normal", "color": "black", "offset": 1.5},
    "legend": {
      "orient": "top-right", "offset": 6, "padding": 3.5,
      "fillColor": "rgba(255,255,255,0.8)", "strokeColor": "#cccccc", "cornerRadius": 3,
      "labelFont": "DejaVu Sans", "labelFontSize": 13, "labelColor": "black",
      "symbolStrokeWidth": 2, "symbolSize": 289, "symbolType": "M-1.7,0H1.7", "symbolOffset": 5.75, "labelOffset": 22.4
    },
    "text": {"font": "DejaVu Sans"}
  }
}
